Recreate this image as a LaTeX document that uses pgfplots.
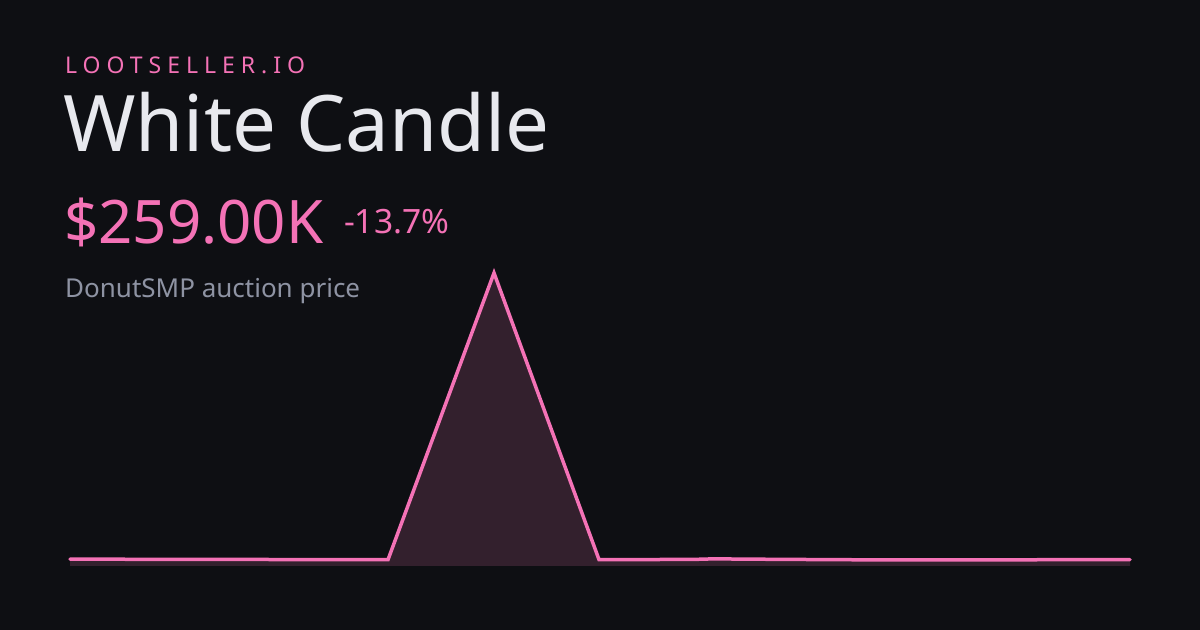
\documentclass[border=0pt]{standalone}
\usepackage{pgfplots}
\pgfplotsset{compat=1.18}
\usepackage{fontspec}
\setmainfont{Noto Sans}
\newfontfamily\spaced[LetterSpace=26]{Noto Sans}

\definecolor{bg}{HTML}{0E0F13}
\definecolor{pinkline}{HTML}{F472B6}
\definecolor{pinkfill}{HTML}{33202D}
\definecolor{titlecol}{HTML}{E8E9EE}
\definecolor{subcol}{HTML}{8E93A3}

% price in K, x in days-ish (pixel spacing of the reference)
\pgfplotstableread{
x y
0 285
62 275
318 258
424 12000
529 262
622 268
643 292
709 272
807 250
1060 259
}\prices

\begin{document}
\begin{tikzpicture}[x=1bp,y=1bp]
\fill[bg] (0,0) rectangle (1200,630);
\useasboundingbox (0,0) rectangle (1200,630);

\node[anchor=base west,inner sep=0,text=pinkline] at (65,556.7)
  {\fontsize{23bp}{28bp}\selectfont\spaced LOOTSELLER.IO};
\node[anchor=base west,inner sep=0,text=titlecol] at (63,478.3)
  {\fontsize{78bp}{94bp}\selectfont White Candle};
\node[anchor=base west,inner sep=0,text=pinkline] at (64,386)
  {\fontsize{60bp}{72bp}\selectfont \$259.00K};
\node[anchor=base west,inner sep=0,text=pinkline] at (344,396)
  {\fontsize{33.5bp}{40bp}\selectfont -13.7\%};
\node[anchor=base west,inner sep=0,text=subcol] at (65,332.7)
  {\fontsize{26bp}{31bp}\selectfont DonutSMP auction price};

\begin{axis}[
  at={(70bp,64bp)},anchor=origin,
  scale only axis,width=1060bp,height=294bp,
  xmin=0,xmax=1060,ymin=0,ymax=12040,
  hide axis,clip=false
]
\addplot[draw=none,fill=pinkfill] table[x=x,y=y]{\prices} \closedcycle;
\addplot[pinkline,line width=3.5bp,line cap=round,line join=miter,mark=none] table[x=x,y=y]{\prices};
\end{axis}
\end{tikzpicture}
\end{document}
